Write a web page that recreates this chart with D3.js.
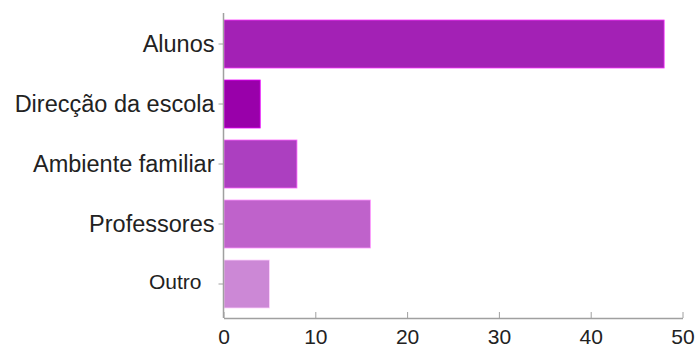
<!DOCTYPE html>
<html><head><meta charset="utf-8">
<script src="https://cdn.jsdelivr.net/npm/d3@7"></script>
<style>body{margin:0;background:#fff}svg{display:block}</style>
</head><body>
<script>
const categories = ["Alunos", "Direcção da escola", "Ambiente familiar", "Professores", "Outro"];
const values = [48, 4, 8, 16, 5];
const colors = ["#a321b5", "#9900aa", "#ac3fc0", "#bf62cb", "#cc88d6"];
const xTicks = [0, 10, 20, 30, 40, 50];

const W = 697, H = 347;
const svg = d3.select("body").append("svg").attr("width", W).attr("height", H);
const x = d3.scaleLinear().domain([0, 50]).range([223.5, 682.5]);
const y = d3.scaleBand().domain(categories).range([14, 314]).paddingInner(0.2).paddingOuter(0.1);

svg.selectAll("rect.bar").data(categories).enter().append("rect")
  .attr("class", "bar")
  .attr("x", x(0) + 0.5)
  .attr("y", d => y(d))
  .attr("width", (d, i) => x(values[i]) - x(0) - 0.5)
  .attr("height", y.bandwidth())
  .attr("fill", (d, i) => colors[i])
  .attr("stroke", (d, i) => d3.color(colors[i]).brighter(1.2))
  .attr("stroke-width", 0.8);

// y axis
const yAxis = svg.append("g").attr("transform", `translate(${x(0)},0)`)
  .call(d3.axisLeft(y).tickSize(5).tickPadding(4));
yAxis.select(".domain").remove();
yAxis.append("line").attr("x1", 0).attr("x2", 0).attr("y1", 13).attr("y2", 318)
  .attr("stroke", "#a0a0a0").attr("stroke-width", 1.5);
yAxis.selectAll(".tick line").attr("stroke", "#a0a0a0");
yAxis.selectAll(".tick text").attr("font-family", "Liberation Sans, Arial, sans-serif")
  .attr("font-size", d => d === "Outro" ? 21 : 23.5).attr("fill", "#222")
  .attr("dx", d => d === "Outro" ? -13 : 0).attr("dy", d => d === "Outro" ? "0.25em" : "0.35em");

// x axis
const xAxis = svg.append("g").attr("transform", `translate(0,318)`)
  .call(d3.axisBottom(x).tickValues(xTicks).tickSize(-6).tickSizeOuter(0).tickPadding(4));
xAxis.select(".domain").attr("stroke", "#a0a0a0").attr("stroke-width", 1.5);
xAxis.selectAll(".tick text").attr("font-family", "Liberation Sans, Arial, sans-serif")
  .attr("font-size", 21).attr("fill", "#222").attr("dy", "0.71em").attr("y", 11);
xAxis.selectAll(".tick line").attr("stroke", "#a0a0a0");
</script>
</body></html>
